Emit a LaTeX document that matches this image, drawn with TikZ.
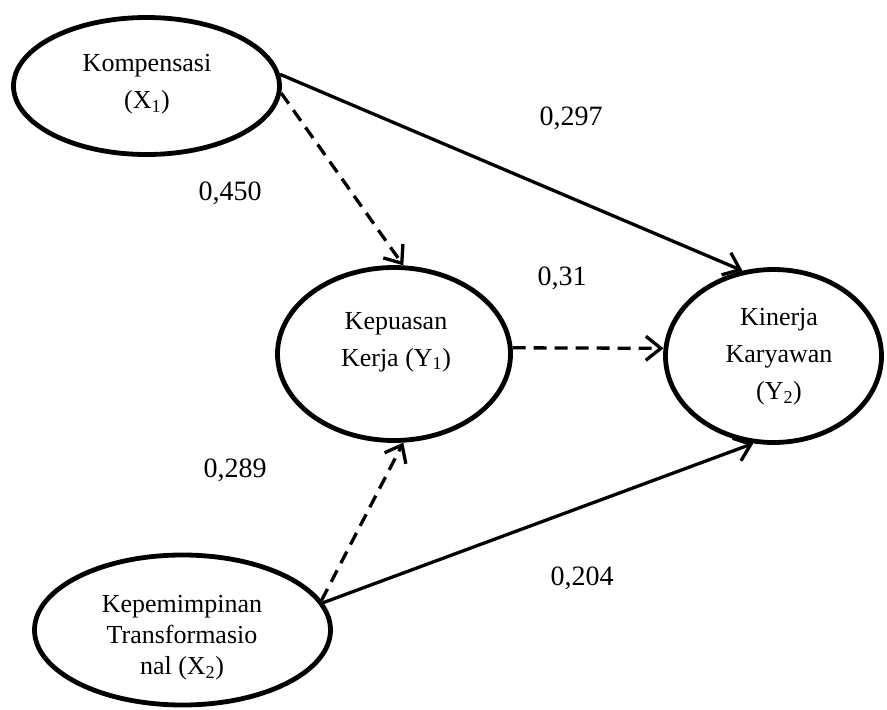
\documentclass[tikz,border=0pt]{standalone}
\usepackage{fontspec}
\setmainfont{Liberation Serif}
\usetikzlibrary{shapes.geometric,arrows.meta}
\tikzset{
  latent/.style={draw, ellipse, line width=4.8pt, inner sep=0pt},
  lbl/.style={inner sep=0pt, font=\fontsize{26}{37}\selectfont, align=center},
  coef/.style={inner sep=0pt, font=\fontsize{28}{30}\selectfont},
  path1/.style={line width=3.3pt, -{Straight Barb[length=15pt,width=24pt,line width=3.3pt]}},
  dpath/.style={path1, dash pattern=on 13pt off 8pt},
}
\begin{document}
\begin{tikzpicture}[x=1pt,y=-1pt]
\useasboundingbox (0,0) rectangle (887,710);
\node[latent, minimum width=266pt, minimum height=137pt] (e1) at (146.5,86) {};
\node[latent, minimum width=233pt, minimum height=173pt] (e2) at (394,354) {};
\node[latent, minimum width=216pt, minimum height=173pt] (e3) at (773.5,356) {};
\node[latent, minimum width=296pt, minimum height=150pt] (e4) at (182.5,630) {};
\node[lbl] (t1) at (147,84) {Kompensasi\\(X\textsubscript{1})};
\node[lbl] (t2) at (396,342) {Kepuasan\\Kerja (Y\textsubscript{1})};
\node[lbl] (t3) at (779,357) {Kinerja\\Karyawan\\(Y\textsubscript{2})};
\node[lbl, font=\fontsize{26}{31}\selectfont] (t4) at (182,638) {Kepemimpinan\\Transformasio\\nal (X\textsubscript{2})};
\draw[path1] (e1.5.4) -- (e3.110.3);
\draw[dpath] (e1.-3) -- (e2.84);
\draw[dpath] (e2.3) -- (e3.176);
\draw[dpath] (e4.12) -- (e2.-84);
\draw[path1] (e4.11.5) -- (e3.-103);
\node[coef] (c1) at (571,118) {0,297};
\node[coef] (c2) at (230,193) {0,450};
\node[coef] (c3) at (562,278) {0,31};
\node[coef] (c4) at (235,470) {0,289};
\node[coef] (c5) at (582,578) {0,204};
\end{tikzpicture}
\end{document}
